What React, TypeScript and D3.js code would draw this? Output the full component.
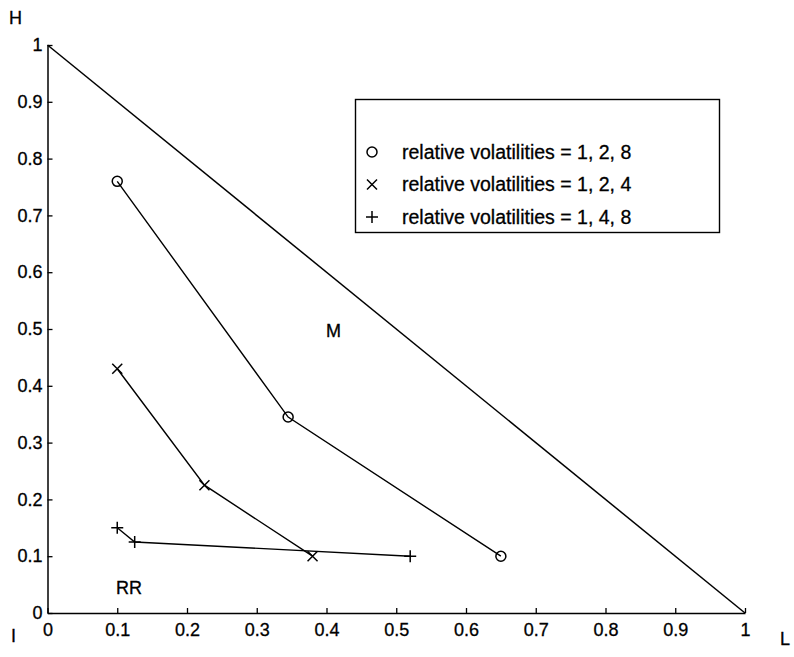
import React, { useRef, useEffect } from "react";
import * as d3 from "d3";

// series: [L, H] composition points
const circleSeries: [number, number][] = [
  [0.1, 0.76],
  [0.345, 0.345],
  [0.65, 0.1],
];
const crossSeries: [number, number][] = [
  [0.1, 0.43],
  [0.225, 0.225],
  [0.38, 0.1],
];
const plusSeries: [number, number][] = [
  [0.1, 0.15],
  [0.125, 0.125],
  [0.52, 0.1],
];
const boundary: [number, number][] = [
  [0, 1],
  [1, 0],
];
const ticks = [0, 0.1, 0.2, 0.3, 0.4, 0.5, 0.6, 0.7, 0.8, 0.9, 1];
const legendLabels = [
  "relative volatilities = 1, 2, 8",
  "relative volatilities = 1, 2, 4",
  "relative volatilities = 1, 4, 8",
];

const W = 794;
const H = 657;
const FONT = "'Liberation Sans', Arial, Helvetica, sans-serif";

const App = () => {
  const svgRef = useRef<SVGSVGElement>(null);

  useEffect(() => {
    const svg = d3.select(svgRef.current);
    svg.selectAll("*").remove();

    const x = d3.scaleLinear().domain([0, 1]).range([47.5, 745]);
    const y = d3.scaleLinear().domain([0, 1]).range([613, 45]);

    const g = svg.append("g").attr("font-family", FONT).attr("fill", "#000");

    // axes, ticks point inward
    const xAxis = d3
      .axisBottom(x)
      .tickValues(ticks)
      .tickSizeInner(-5)
      .tickSizeOuter(0)
      .tickFormat((d) => d3.format("")(+d));
    const yAxis = d3
      .axisLeft(y)
      .tickValues(ticks)
      .tickSizeInner(-5)
      .tickSizeOuter(0)
      .tickPadding(5)
      .tickFormat((d) => d3.format("")(+d));

    const gx = g.append("g").attr("transform", `translate(0,${y(0)})`).call(xAxis);
    const gy = g.append("g").attr("transform", `translate(${x(0)},0)`).call(yAxis);
    [gx, gy].forEach((ax) => {
      ax.selectAll("path").attr("stroke", "#000").attr("stroke-width", 1.5);
      ax.selectAll("line").attr("stroke", "#000").attr("stroke-width", 1.3);
      ax.selectAll("text")
        .attr("font-size", 18)
        .attr("font-family", FONT)
        .attr("fill", "#000")
        .attr("stroke", "#000")
        .attr("stroke-width", 0.3);
    });
    gx.selectAll("text").attr("y", 23).attr("dy", 0);

    const line = d3
      .line<[number, number]>()
      .x((d) => x(d[0]))
      .y((d) => y(d[1]));

    g.append("path")
      .attr("d", line(boundary))
      .attr("fill", "none")
      .attr("stroke", "#000")
      .attr("stroke-width", 1.5);

    const series = [
      { data: circleSeries, marker: "o" },
      { data: crossSeries, marker: "x" },
      { data: plusSeries, marker: "+" },
    ];

    const drawMarker = (sel: any, kind: string, cx: number, cy: number) => {
      if (kind === "o") {
        sel.append("circle")
          .attr("cx", cx).attr("cy", cy).attr("r", 5)
          .attr("fill", "none").attr("stroke", "#000").attr("stroke-width", 1.5);
      } else if (kind === "x") {
        const s = 5;
        sel.append("path")
          .attr("d", `M${cx - s},${cy - s}L${cx + s},${cy + s}M${cx - s},${cy + s}L${cx + s},${cy - s}`)
          .attr("stroke", "#000").attr("stroke-width", 1.5);
      } else {
        const s = 6;
        sel.append("path")
          .attr("d", `M${cx - s},${cy}L${cx + s},${cy}M${cx},${cy - s}L${cx},${cy + s}`)
          .attr("stroke", "#000").attr("stroke-width", 1.5);
      }
    };

    series.forEach((s) => {
      g.append("path")
        .attr("d", line(s.data))
        .attr("fill", "none")
        .attr("stroke", "#000")
        .attr("stroke-width", 1.4);
      s.data.forEach((d) => drawMarker(g, s.marker, x(d[0]), y(d[1])));
    });

    // corner / region labels
    const label = (t: string, px: number, py: number) =>
      g.append("text")
        .attr("x", px).attr("y", py)
        .attr("font-size", 18)
        .attr("stroke", "#000")
        .attr("stroke-width", 0.3)
        .text(t);
    label("H", 9, 24);
    label("I", 11, 642);
    label("L", 780, 645);
    label("M", 326, 337);
    label("RR", 116, 594);

    // legend
    const lg = g.append("g");
    lg.append("rect")
      .attr("x", 355.5).attr("y", 99.5)
      .attr("width", 364).attr("height", 133)
      .attr("fill", "#fff").attr("stroke", "#000").attr("stroke-width", 1.4);
    ["o", "x", "+"].forEach((m, i) => {
      const cy = 152 + i * 32.5;
      drawMarker(lg, m, 372, cy);
      lg.append("text")
        .attr("x", 402).attr("y", cy + 6.5)
        .attr("font-size", 19.5)
        .attr("stroke", "#000")
        .attr("stroke-width", 0.3)
        .text(legendLabels[i]);
    });
  }, []);

  return <svg ref={svgRef} width={W} height={H} style={{ position: "absolute", left: 0, top: 0 }} />;
};

export default App;
